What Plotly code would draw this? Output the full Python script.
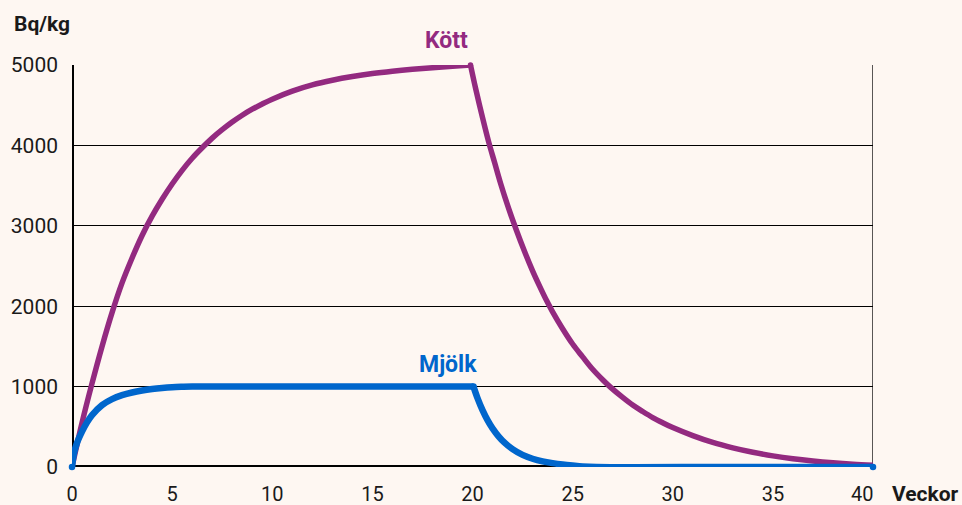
import plotly.graph_objects as go

# Data (weeks, Bq/kg)
weeks_kott = [0, 0.5, 1, 1.5, 2, 2.5, 3, 3.5, 4, 4.5, 5, 5.5, 6, 6.5, 7, 7.5, 8, 8.5, 9, 9.5, 10,
              11, 12, 13, 14, 15, 16, 17, 18, 19, 19.9,
              20.1, 20.35, 20.8, 21.1, 21.4, 21.8, 22.17, 22.6, 23, 23.35, 23.7, 24, 24.5, 25,
              25.5, 26, 26.5, 26.9, 27.5, 28, 28.5, 29, 29.5, 30, 31, 32, 33, 34, 35, 36, 37,
              38, 39, 40]
kott = [0, 550, 1040, 1500, 1920, 2290, 2600, 2880, 3120, 3330, 3520, 3690, 3840, 3970, 4090,
        4195, 4290, 4375, 4450, 4515, 4575,
        4675, 4752, 4810, 4856, 4893, 4922, 4946, 4966, 4984, 5000,
        4770, 4500, 4050, 3790, 3530, 3220, 2960, 2680, 2440, 2250, 2070, 1930, 1720, 1530,
        1370, 1215, 1085, 990, 865, 770, 690, 615, 550, 490, 390, 305, 238, 183, 138, 102, 74,
        52, 35, 22]

weeks_mjolk = [0, 0.1, 0.25, 0.5, 0.75, 1, 1.5, 2, 2.5, 3, 3.5, 4, 4.5, 5, 5.5, 6, 13, 20.05,
               20.25, 20.5, 20.75, 21, 21.3, 21.6, 22, 22.5, 23, 23.5, 24, 24.5, 25, 25.5,
               26.2, 33, 40]
mjolk = [0, 170, 300, 440, 555, 645, 770, 845, 893, 927, 952, 970, 983, 992, 997, 1000, 1000, 1000,
         857, 707, 583, 481, 382, 303, 223, 151, 103, 70, 48, 31, 18, 7,
         0, 0, 0]

x_ticks = [0, 5, 10, 15, 20, 25, 30, 35, 40]
y_ticks = [0, 1000, 2000, 3000, 4000, 5000]

PURPLE = "#932a80"
BLUE = "#0066cc"
BG = "#fef7f2"
TXT = "#1a1a1a"
FONT = "Roboto"

# split each series at its peak so the corner stays sharp while curves stay smooth
k_peak = kott.index(max(kott))
m_peak = weeks_mjolk.index(20.05)

fig = go.Figure()


def add_line(xs, ys, color, width):
    fig.add_trace(go.Scatter(x=xs, y=ys, mode="lines",
                             line=dict(color=color, width=width, shape="spline", smoothing=1),
                             cliponaxis=False, showlegend=False, hoverinfo="skip"))


add_line(weeks_kott[:k_peak + 1], kott[:k_peak + 1], PURPLE, 5.5)
add_line(weeks_kott[k_peak:], kott[k_peak:], PURPLE, 5.5)
add_line(weeks_mjolk[:m_peak + 1], mjolk[:m_peak + 1], BLUE, 6.5)
add_line(weeks_mjolk[m_peak:], mjolk[m_peak:], BLUE, 6.5)

# round joins / caps
fig.add_trace(go.Scatter(x=[weeks_kott[k_peak]], y=[kott[k_peak]], mode="markers",
                         marker=dict(color=PURPLE, size=5.5), cliponaxis=False,
                         showlegend=False, hoverinfo="skip"))
fig.add_trace(go.Scatter(x=[weeks_mjolk[0], weeks_mjolk[m_peak], weeks_mjolk[-1]],
                         y=[mjolk[0], mjolk[m_peak], mjolk[-1]], mode="markers",
                         marker=dict(color=BLUE, size=6.5), cliponaxis=False,
                         showlegend=False, hoverinfo="skip"))

x_text = [str(v) for v in x_ticks]
x_text[-1] = ""  # last label drawn separately (shifted left as in reference)

fig.update_layout(
    width=962, height=505,
    margin=dict(l=72, r=89, t=65, b=38, autoexpand=False),
    paper_bgcolor=BG, plot_bgcolor=BG,
    font=dict(family=FONT, size=20, color=TXT),
    xaxis=dict(range=[0, 40], tickvals=x_ticks, ticktext=x_text,
               showgrid=False, zeroline=False, showline=False,
               ticks="", ticklabelstandoff=13, fixedrange=True, automargin=False),
    yaxis=dict(range=[0, 5000], tickvals=y_ticks, ticktext=[str(v) for v in y_ticks],
               showgrid=True, gridcolor="black", gridwidth=1, zeroline=False,
               showline=False, ticks="", ticklabelstandoff=13, fixedrange=True,
               automargin=False, tickfont=dict(size=21)),
    shapes=[
        dict(type="line", xref="x", yref="y", x0=40, x1=40, y0=0, y1=5000,
             line=dict(color="black", width=1.3), layer="below"),
        dict(type="line", xref="x", yref="y", x0=0, x1=0, y0=0, y1=5000,
             line=dict(color="black", width=4), layer="below"),
        dict(type="line", xref="x", yref="y", x0=0, x1=40, y0=0, y1=0,
             line=dict(color="black", width=4), layer="below"),
    ],
    annotations=[
        dict(text=str(x_ticks[-1]), xref="x", yref="y", x=x_ticks[-1], y=0, xshift=-11,
             yshift=-27, xanchor="center", yanchor="middle", showarrow=False,
             font=dict(family=FONT, size=20, color=TXT)),
        dict(text="<b>Bq/kg</b>", xref="paper", yref="paper", x=0, y=1.0, xshift=-30, yshift=41,
             xanchor="center", yanchor="middle", showarrow=False,
             font=dict(family=FONT, size=21, color=TXT)),
        dict(text="<b>Veckor</b>", xref="paper", yref="paper", x=1.0, y=0, xshift=17, yshift=-27,
             xanchor="left", yanchor="middle", showarrow=False,
             font=dict(family=FONT, size=21, color=TXT)),
        dict(text="<b>Kött</b>", xref="x", yref="y", x=18.7, y=5000, yshift=25,
             xanchor="center", yanchor="middle", showarrow=False,
             font=dict(family=FONT, size=23, color=PURPLE)),
        dict(text="<b>Mjölk</b>", xref="x", yref="y", x=18.8, y=1000, yshift=22,
             xanchor="center", yanchor="middle", showarrow=False,
             font=dict(family=FONT, size=23, color=BLUE)),
    ],
)

fig.write_html("out.html", config={"displayModeBar": False},
               post_script="document.body.style.margin='0';document.body.style.overflow='hidden';")
